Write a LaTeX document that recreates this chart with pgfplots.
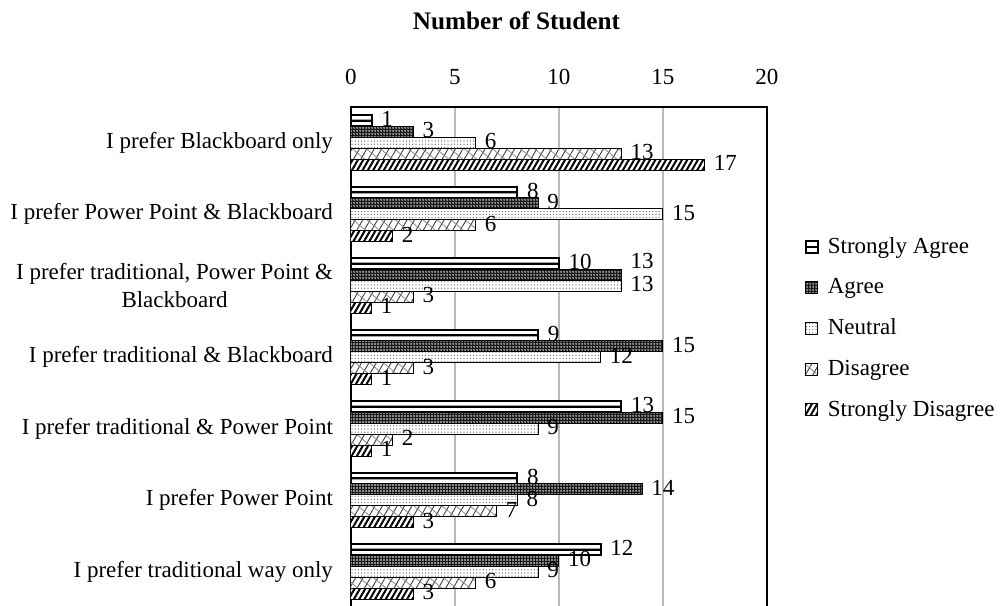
\documentclass[border=0pt]{standalone}
\usepackage{fontspec}
\setmainfont{Liberation Serif}
\usepackage{pgfplots}
\pgfplotsset{compat=1.18}
\usetikzlibrary{patterns.meta}

\pgfplotsset{
  sqlegend/.style={legend image code/.code={\draw[##1] (0pt,-3pt) rectangle (6pt,3pt);}},
}

\begin{document}
\fontsize{11.5}{14}\selectfont
\begin{tikzpicture}
\begin{axis}[
  at={(0pt,0pt)}, anchor=north west,
  width=208pt, height=250.25pt, scale only axis,
  xmin=0, xmax=20, ymin=0.5, ymax=7.5,
  y dir=reverse,
  xtick={0,5,10,15,20},
  xticklabel pos=upper,
  ytick={1,2,3,4,5,6,7},
  yticklabels={I prefer Blackboard only, I prefer Power Point \& Blackboard, {I prefer traditional, Power Point \&\\Blackboard}, I prefer traditional \& Blackboard, I prefer traditional \& Power Point, I prefer Power Point, I prefer traditional way only},
  major tick length=0pt,
  xmajorgrids, major grid style={gray!55, line width=0.6pt},
  axis line style={black, line width=0.6pt},
  /pgf/number format/assume math mode=true,
  xticklabel style={anchor=south, yshift=7pt},
  yticklabel style={align=center, xshift=-5pt},
  xbar, bar width=0.154,
  every node near coord/.append style={anchor=west, xshift=0.5pt, yshift=0.8pt, text=black},
  legend style={at={(1.09,0.748)}, anchor=north west, draw=none, fill=none, row sep=6.8pt, column sep=2.5pt, inner sep=0pt},
  legend cell align=left,
]
% Strongly Agree
\addplot[xbar, bar shift=-0.308, fill=white, draw=black, line width=1pt, nodes near coords,
  legend image code/.code={\draw[fill=white, line width=0.8pt] (0pt,-3pt) rectangle (6pt,3pt); \draw[line width=1pt] (0pt,0pt) -- (6pt,0pt);}]
  coordinates {(1,1) (8,2) (10,3) (9,4) (13,5) (8,6) (12,7)};
\addlegendentry{Strongly Agree}
% Agree
\addplot[xbar, bar shift=-0.154, fill=black!90, draw=black, line width=0.5pt,
  postaction={pattern={Dots[distance=1.5pt, radius=0.38pt]}, pattern color=white}, sqlegend,
  nodes near coords, visualization depends on={\thisrow{dy} \as \dy},
  every node near coord/.append style={yshift=\dy pt}]
  table[x=x, y=y] {
  x  y  dy
  3  1  0
  9  2  0
  13 3  6
  15 4  0
  15 5  0
  14 6  0
  10 7  0
  };
\addlegendentry{Agree}
% Neutral
\addplot[xbar, bar shift=0, fill=white, draw=black, line width=0.5pt,
  postaction={pattern={Dots[distance=1.6pt, radius=0.32pt]}, pattern color=black!65}, nodes near coords, sqlegend]
  coordinates {(6,1) (15,2) (13,3) (12,4) (9,5) (8,6) (9,7)};
\addlegendentry{Neutral}
% Disagree
\addplot[xbar, bar shift=0.154, fill=white, draw=black, line width=0.5pt,
  postaction={pattern={Lines[angle=60, distance=3.2pt, line width=0.45pt]}, pattern color=black!75},
  postaction={pattern={Lines[angle=-40, distance=4.5pt, line width=0.35pt]}, pattern color=black!50}, nodes near coords, sqlegend]
  coordinates {(13,1) (6,2) (3,3) (3,4) (2,5) (7,6) (6,7)};
\addlegendentry{Disagree}
% Strongly Disagree
\addplot[xbar, bar shift=0.308, fill=white, draw=black, line width=0.5pt,
  postaction={pattern={Lines[angle=60, distance=2.3pt, line width=1pt]}, pattern color=black}, nodes near coords, sqlegend]
  coordinates {(17,1) (2,2) (1,3) (1,4) (1,5) (3,6) (3,7)};
\addlegendentry{Strongly Disagree}
% middle stripe of Strongly Agree bars
\addplot[xbar, bar shift=-0.308, bar width=0.032, fill=black, draw=none, forget plot]
  coordinates {(1,1) (8,2) (10,3) (9,4) (13,5) (8,6) (12,7)};
\end{axis}
\node[font=\fontsize{12.6}{15}\selectfont\bfseries] at (82.75pt,43pt) {Number of Student};
\pgfresetboundingbox
\useasboundingbox (-175.5pt,53.5pt) rectangle (325pt,-249pt);
\end{tikzpicture}
\end{document}
